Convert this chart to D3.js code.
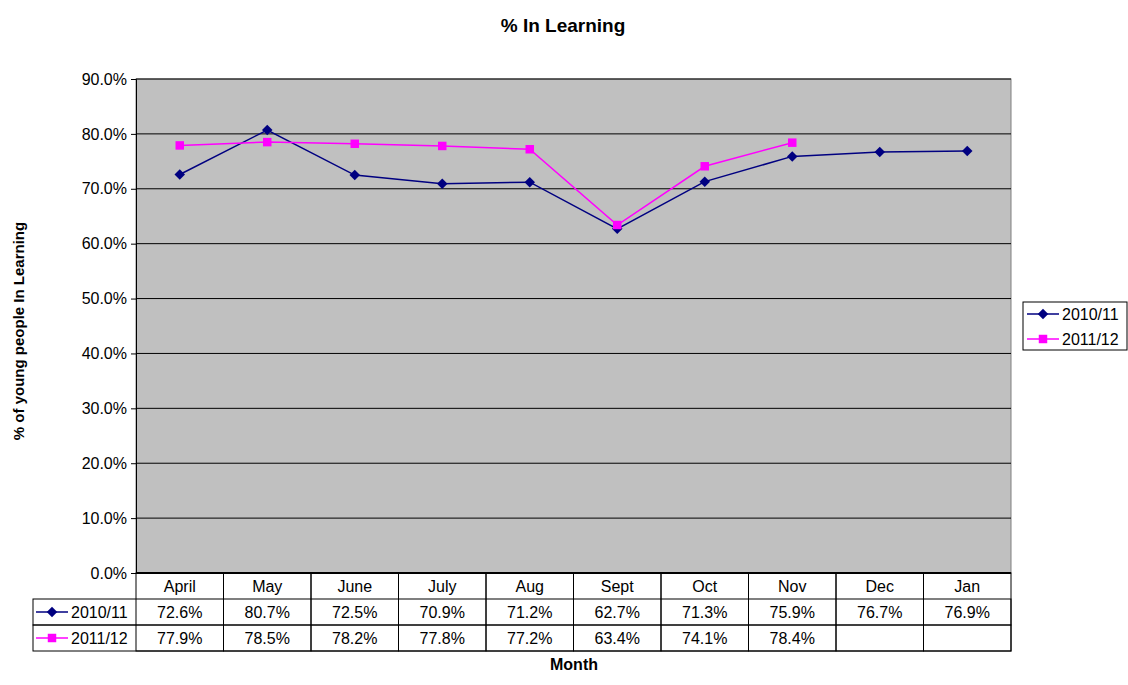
<!DOCTYPE html>
<html>
<head>
<meta charset="utf-8">
<script src="https://cdn.jsdelivr.net/npm/d3@7"></script>
<style>
body { margin: 0; background: #fff; }
text { font-family: "Liberation Sans", Arial, sans-serif; fill: #000; }
</style>
</head>
<body>
<svg id="chart" width="1128" height="685"></svg>
<script>
// data
var months = ["April", "May", "June", "July", "Aug", "Sept", "Oct", "Nov", "Dec", "Jan"];
var series2010 = [72.6, 80.7, 72.5, 70.9, 71.2, 62.7, 71.3, 75.9, 76.7, 76.9];
var series2011 = [77.9, 78.5, 78.2, 77.8, 77.2, 63.4, 74.1, 78.4, null, null];
var yTicks = [0, 10, 20, 30, 40, 50, 60, 70, 80, 90];

var seriesList = [
    {name: "2010/11", values: series2010, color: "#000080", marker: d3.symbolDiamond2, size: 70},
    {name: "2011/12", values: series2011, color: "#FF00FF", marker: d3.symbolSquare, size: 72}
];

var svg = d3.select("#chart");
var plotLeft = 136, plotRight = 1011, plotTop = 79, plotBottom = 573;
var rowH = 26;
var fs = "16px";

var x = d3.scaleBand().domain(months).range([plotLeft, plotRight]);
var y = d3.scaleLinear().domain([0, 90]).range([plotBottom, plotTop]);

// plot area
svg.append("rect")
    .attr("x", plotLeft).attr("y", plotTop)
    .attr("width", plotRight - plotLeft).attr("height", plotBottom - plotTop)
    .attr("fill", "#C0C0C0")
    .attr("stroke", "#808080").attr("stroke-width", 1);

// gridlines
svg.append("g").selectAll("line")
    .data(yTicks.slice(1))
    .enter().append("line")
    .attr("x1", plotLeft).attr("x2", plotRight)
    .attr("y1", function(d) { return y(d); })
    .attr("y2", function(d) { return y(d); })
    .attr("stroke", "#000").attr("stroke-width", 1);

// y axis
var yAxis = d3.axisLeft(y)
    .tickValues(yTicks)
    .tickSize(5)
    .tickPadding(4)
    .tickFormat(function(d) { return d.toFixed(1) + "%"; });
var yg = svg.append("g").attr("transform", "translate(" + plotLeft + ",0)").call(yAxis);
yg.select(".domain").attr("stroke", "#000");
yg.selectAll(".tick line").attr("stroke", "#000");
yg.selectAll("text").style("font-size", fs).style("font-family", "Liberation Sans, Arial, sans-serif").attr("fill", "#000");

// lines and markers
seriesList.forEach(function(s) {
    var line = d3.line()
        .defined(function(d) { return d != null; })
        .x(function(d, i) { return x(months[i]) + x.bandwidth() / 2; })
        .y(function(d) { return y(d); });
    svg.append("path")
        .datum(s.values)
        .attr("d", line)
        .attr("fill", "none")
        .attr("stroke", s.color)
        .attr("stroke-width", 1.5);
    svg.append("g").selectAll("path")
        .data(s.values.map(function(v, i) { return {v: v, m: months[i]}; })
            .filter(function(d) { return d.v != null; }))
        .enter().append("path")
        .attr("d", d3.symbol().type(s.marker).size(s.size))
        .attr("transform", function(d) {
            return "translate(" + (x(d.m) + x.bandwidth() / 2) + "," + y(d.v) + ")";
        })
        .attr("fill", s.color);
});

// data table
var table = svg.append("g");
var tableLeft = 33;
table.append("line")
    .attr("x1", plotLeft).attr("x2", plotRight)
    .attr("y1", plotBottom).attr("y2", plotBottom)
    .attr("stroke", "#000").attr("stroke-width", 2);
months.forEach(function(m) {
    table.append("rect")
        .attr("x", x(m)).attr("y", plotBottom)
        .attr("width", x.bandwidth()).attr("height", rowH * 3)
        .attr("fill", "none").attr("stroke", "#000");
    table.append("text")
        .attr("x", x(m) + x.bandwidth() / 2).attr("y", plotBottom + rowH / 2 + 6)
        .attr("text-anchor", "middle").style("font-size", fs)
        .text(m);
});
seriesList.forEach(function(s, r) {
    var ry = plotBottom + rowH * (r + 1);
    table.append("rect")
        .attr("x", tableLeft).attr("y", ry)
        .attr("width", plotRight - tableLeft).attr("height", rowH)
        .attr("fill", "none").attr("stroke", "#000");
    table.append("line")
        .attr("x1", tableLeft + 3).attr("x2", tableLeft + 35)
        .attr("y1", ry + rowH / 2).attr("y2", ry + rowH / 2)
        .attr("stroke", s.color).attr("stroke-width", 1.5);
    table.append("path")
        .attr("d", d3.symbol().type(s.marker).size(s.size))
        .attr("transform", "translate(" + (tableLeft + 19) + "," + (ry + rowH / 2) + ")")
        .attr("fill", s.color);
    table.append("text")
        .attr("x", tableLeft + 38).attr("y", ry + rowH / 2 + 6)
        .style("font-size", fs).text(s.name);
    s.values.forEach(function(v, i) {
        if (v == null) return;
        table.append("text")
            .attr("x", x(months[i]) + x.bandwidth() / 2).attr("y", ry + rowH / 2 + 6)
            .attr("text-anchor", "middle").style("font-size", fs)
            .text(v.toFixed(1) + "%");
    });
});

// legend
var lg = svg.append("g").attr("transform", "translate(1023,302)");
lg.append("rect").attr("width", 104).attr("height", 48)
    .attr("fill", "#fff").attr("stroke", "#000");
seriesList.forEach(function(s, i) {
    var ly = 12 + i * 25;
    lg.append("line").attr("x1", 4).attr("x2", 36).attr("y1", ly).attr("y2", ly)
        .attr("stroke", s.color).attr("stroke-width", 1.5);
    lg.append("path")
        .attr("d", d3.symbol().type(s.marker).size(s.size))
        .attr("transform", "translate(20," + ly + ")")
        .attr("fill", s.color);
    lg.append("text").attr("x", 39).attr("y", ly + 6)
        .style("font-size", fs).text(s.name);
});

// titles
svg.append("text").attr("x", 563).attr("y", 32)
    .attr("text-anchor", "middle").style("font-size", "19px").style("font-weight", "bold")
    .text("% In Learning");
svg.append("text").attr("x", 574).attr("y", 670)
    .attr("text-anchor", "middle").style("font-size", "16px").style("font-weight", "bold")
    .text("Month");
svg.append("text")
    .attr("transform", "translate(24,331) rotate(-90)")
    .attr("text-anchor", "middle").style("font-size", "15px").style("font-weight", "bold")
    .text("% of young people In Learning");
</script>
</body>
</html>
